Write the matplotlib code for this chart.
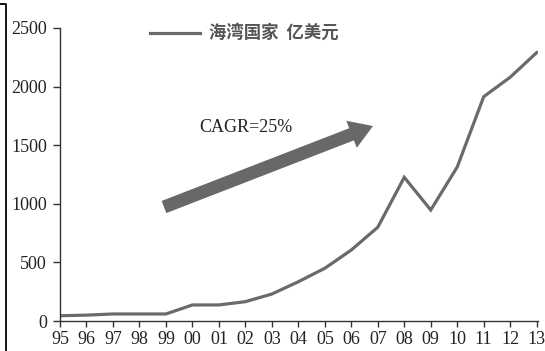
import numpy as np
import matplotlib
matplotlib.use("Agg")
import matplotlib.pyplot as plt
from matplotlib.patches import Polygon
from matplotlib.lines import Line2D

# Gulf countries, annual value (100 million USD)
years = ["95", "96", "97", "98", "99", "00", "01", "02", "03", "04",
         "05", "06", "07", "08", "09", "10", "11", "12", "13"]
values = [45, 50, 60, 60, 60, 137, 137, 165, 230, 335,
          450, 606, 800, 1226, 947, 1314, 1914, 2080, 2290]
y_ticks = [0, 500, 1000, 1500, 2000, 2500]
series_label = "海湾国家  亿美元"
cagr_label = "CAGR=25%"

W, H = 545, 351
fig = plt.figure(figsize=(W / 100, H / 100), dpi=100)
fig.patch.set_facecolor("white")


def fx(px):
    return px / W


def fy(py):
    return 1 - py / H


ax = fig.add_axes([fx(60), fy(321), fx(538) - fx(60), fy(28) - fy(321)])
x = np.arange(len(years))
line_color = "#6a6a6a"
ax.plot(x, values, color=line_color, lw=2.3, solid_joinstyle="miter")

ax.set_xlim(0, len(years) - 1 + 0.05)
ax.set_ylim(0, 2500)
ax.set_xticks(x)
ax.set_xticklabels(years)
ax.set_yticks(y_ticks)
ax.set_yticklabels([str(v) for v in y_ticks])

axis_color = "#333333"
for side in ("top", "right"):
    ax.spines[side].set_visible(False)
for side in ("left", "bottom"):
    ax.spines[side].set_color(axis_color)
    ax.spines[side].set_linewidth(1.0)
ax.tick_params(axis="y", direction="out", length=5, width=1.0, color=axis_color, pad=4.5)
ax.tick_params(axis="x", direction="out", length=4, width=1.0, color=axis_color, pad=3)
for lab in ax.get_xticklabels() + ax.get_yticklabels():
    lab.set_fontfamily("Liberation Serif")
    lab.set_fontsize(13)
    lab.set_color("#222222")

# Legend entry drawn in figure space
fig.add_artist(Line2D([fx(150), fx(200)], [fy(33), fy(33)], color=line_color, lw=2.3))
fig.text(fx(209), fy(33), series_label, family=["Noto Sans CJK SC", "DejaVu Sans"],
         fontsize=12.5, fontweight="bold", color="#555555", va="center", ha="left")

# Growth arrow (pixel geometry, y downward)
tail = np.array([164.0, 207.0])
tip = np.array([373.0, 126.0])
d = tip - tail
L = np.hypot(*d)
u = d / L
n = np.array([-u[1], u[0]])
shaft_w, head_w, head_len = 13.0, 29.0, 23.0
base = tip - u * head_len
pts = [tail + n * shaft_w / 2, base + n * shaft_w / 2, base + n * head_w / 2, tip,
       base - n * head_w / 2, base - n * shaft_w / 2, tail - n * shaft_w / 2]
poly = Polygon([(fx(p[0]), fy(p[1])) for p in pts], closed=True,
               transform=fig.transFigure, facecolor="#686868", edgecolor="none")
fig.add_artist(poly)

fig.text(fx(199), fy(127), cagr_label, family="Liberation Serif", fontsize=13,
         color="#222222", va="center", ha="left")

# Partial frame at the left edge
fig.add_artist(Line2D([fx(0), fx(6), fx(6)], [fy(4), fy(4), fy(352)],
                      color="black", lw=1.3))

fig.savefig("out.png", dpi=100, facecolor="white")
